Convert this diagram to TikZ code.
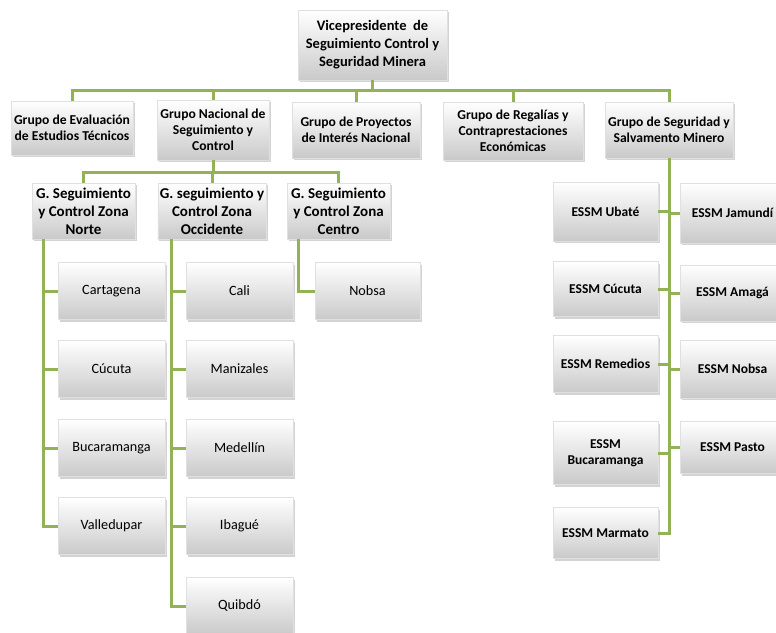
\documentclass[tikz,border=0pt]{standalone}
\usepackage{fontspec}
\setmainfont{Carlito}
\usetikzlibrary{%
  shadows,% drop shadow of the boxes
  calc%
}
\definecolor{ramal}{HTML}{9BBB59}

\tikzset{
  box/.style={rectangle, draw=black!12, top color=white, bottom color=black!21,
    align=center, inner sep=2pt, text=black,
    drop shadow={shadow xshift=1.5pt, shadow yshift=-2pt, opacity=0.35}},
  topbox/.style={box, font=\bfseries\fontsize{14.5}{18}\selectfont},
  hdr/.style={box, font=\bfseries\fontsize{13.6}{16}\selectfont},
  zona/.style={box, minimum height=56, font=\bfseries\fontsize{15}{18}\selectfont},
  leaf/.style={box, minimum width=107, minimum height=57, font=\fontsize{14.2}{17}\selectfont},
  essm/.style={box, minimum width=105, minimum height=57, font=\bfseries\fontsize{13.5}{16.5}\selectfont},
  conn/.style={draw=ramal!95!black, line width=3pt}
}

\begin{document}
\begin{tikzpicture}[x=1pt,y=-1pt]
\useasboundingbox (0,0) rectangle (776,632);

% direccion
\node[topbox, minimum width=149, minimum height=70] (vp) at (372.5,45)
     {Vicepresidente\ \ de\\Seguimiento Control y\\Seguridad Minera};

% grupos
\node[hdr, minimum width=122, minimum height=54] (eval) at (72,128)
     {Grupo de Evaluación\\de Estudios Técnicos};
\node[hdr, minimum width=112, minimum height=60] (nacional) at (213,130)
     {Grupo Nacional de\\Seguimiento y\\Control};
\node[hdr, minimum width=128, minimum height=56] (proyectos) at (356,130)
     {Grupo de Proyectos\\de Interés Nacional};
\node[hdr, minimum width=140, minimum height=58] (regalias) at (513,131)
     {Grupo de Regalías y\\Contraprestaciones\\Económicas};
\node[hdr, minimum width=128, minimum height=56] (salvamento) at (669,130)
     {Grupo de Seguridad y\\Salvamento Minero};

% zonas
\node[zona, minimum width=103] (norte) at (83.5,211)
     {G. Seguimiento\\y Control Zona\\Norte};
\node[zona, minimum width=108] (occidente) at (212,211)
     {G. seguimiento y\\Control Zona\\Occidente};
\node[zona, minimum width=103] (centro) at (338.5,211)
     {G. Seguimiento\\y Control Zona\\Centro};

% zona norte
\node[leaf] (cartagena) at (111.5,291) {Cartagena};
\node[leaf] (cucuta) at (111.5,369) {Cúcuta};
\node[leaf] (bucaramanga) at (111.5,448) {Bucaramanga};
\node[leaf] (valledupar) at (111.5,526) {Valledupar};

% zona occidente
\node[leaf] (cali) at (239.5,291) {Cali};
\node[leaf] (manizales) at (239.5,369) {Manizales};
\node[leaf] (medellin) at (239.5,448) {Medellín};
\node[leaf] (ibague) at (239.5,526) {Ibagué};
\node[leaf] (quibdo) at (239.5,606) {Quibdó};

% zona centro
\node[leaf, minimum width=105] (nobsa) at (367.5,291) {Nobsa};

% estaciones de salvamento
\node[essm, minimum height=59] (ubate) at (605.5,211.5) {ESSM Ubaté};
\node[essm, minimum height=55] (ecucuta) at (605.5,289) {ESSM Cúcuta};
\node[essm] (remedios) at (605.5,364) {ESSM Remedios};
\node[essm, minimum height=63] (ebucaramanga) at (605.5,453) {ESSM\\Bucaramanga};
\node[essm, minimum height=51] (marmato) at (605.5,533) {ESSM Marmato};
\node[essm, minimum height=60] (jamundi) at (732.5,213) {ESSM Jamundí};
\node[essm, minimum height=56] (amaga) at (732.5,293) {ESSM Amagá};
\node[essm, minimum height=58] (enobsa) at (732.5,369) {ESSM Nobsa};
\node[essm, minimum height=52] (pasto) at (732.5,447.5) {ESSM Pasto};

% lineas
\coordinate (busA) at (0,90);
\coordinate (busB) at (0,172);
\coordinate (nsp) at (43,0);
\coordinate (osp) at (171,0);
\coordinate (csp) at (298,0);

\draw[conn] (eval.north) |- (salvamento.north |- busA) -- (salvamento.north);
\draw[conn] (vp.south) -- (vp.south |- busA);
\draw[conn] (nacional.north) -- (nacional.north |- busA);
\draw[conn] (proyectos.north) -- (proyectos.north |- busA);
\draw[conn] (regalias.north) -- (regalias.north |- busA);

\draw[conn] (norte.north) |- (centro.north |- busB) -- (centro.north);
\draw[conn] (nacional.south) -- (nacional.south |- busB);
\draw[conn] (occidente.north) -- (occidente.north |- busB);

\draw[conn] (norte.south -| nsp) |- (valledupar.west);
\draw[conn] (cartagena.west) -- (cartagena.west -| nsp);
\draw[conn] (cucuta.west) -- (cucuta.west -| nsp);
\draw[conn] (bucaramanga.west) -- (bucaramanga.west -| nsp);

\draw[conn] (occidente.south -| osp) |- (quibdo.west);
\draw[conn] (cali.west) -- (cali.west -| osp);
\draw[conn] (manizales.west) -- (manizales.west -| osp);
\draw[conn] (medellin.west) -- (medellin.west -| osp);
\draw[conn] (ibague.west) -- (ibague.west -| osp);

\draw[conn] (centro.south -| csp) |- (nobsa.west);

\draw[conn] (salvamento.south) |- (marmato.east);
\draw[conn] (ubate.east) -- (ubate.east -| salvamento.south);
\draw[conn] (ecucuta.east) -- (ecucuta.east -| salvamento.south);
\draw[conn] (remedios.east) -- (remedios.east -| salvamento.south);
\draw[conn] (ebucaramanga.east) -- (ebucaramanga.east -| salvamento.south);
\draw[conn] (jamundi.west) -- (jamundi.west -| salvamento.south);
\draw[conn] (amaga.west) -- (amaga.west -| salvamento.south);
\draw[conn] (enobsa.west) -- (enobsa.west -| salvamento.south);
\draw[conn] (pasto.west) -- (pasto.west -| salvamento.south);
\end{tikzpicture}
\end{document}
